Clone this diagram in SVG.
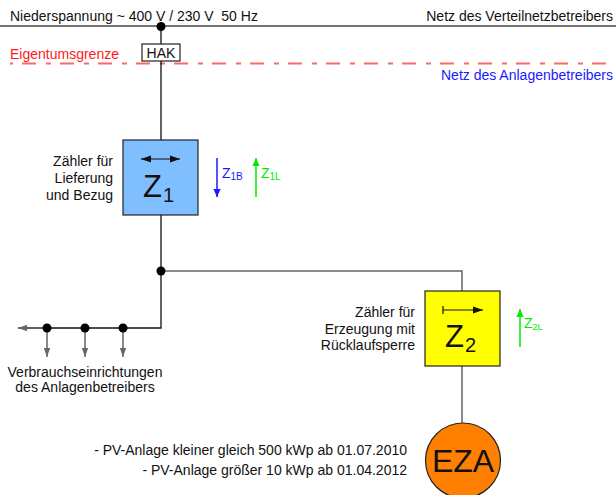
<svg xmlns="http://www.w3.org/2000/svg" width="616" height="495" viewBox="0 0 616 495">
<style>
text{font-family:"Liberation Sans",Arial,sans-serif;font-size:14px;fill:#111}
.r{text-anchor:end}
.c{text-anchor:middle}
.blk{stroke:#111;stroke-width:1.3;fill:none}
.gry{stroke:#666;stroke-width:1.5;fill:none}
.box{stroke:#222;stroke-width:1.2}
</style>
<defs>
<marker id="ak" viewBox="0 0 10 10" refX="10" refY="5" markerWidth="10" markerHeight="10" markerUnits="userSpaceOnUse" orient="auto-start-reverse"><path d="M0,1.5 L10,5 L0,8.5 z" fill="#111"/></marker>
<marker id="ag" viewBox="0 0 10 10" refX="10" refY="5" markerWidth="9" markerHeight="10" markerUnits="userSpaceOnUse" orient="auto"><path d="M0,1.5 L10,5 L0,8.5 z" fill="#666"/></marker>
<marker id="ab" viewBox="0 0 10 10" refX="10" refY="5" markerWidth="12" markerHeight="8" markerUnits="userSpaceOnUse" orient="auto"><path d="M0,0.5 L10,5 L0,9.5 z" fill="#1a1aff"/></marker>
<marker id="agr" viewBox="0 0 10 10" refX="10" refY="5" markerWidth="12" markerHeight="8" markerUnits="userSpaceOnUse" orient="auto"><path d="M0,0.5 L10,5 L0,9.5 z" fill="#00ee00"/></marker>
</defs>

<g id="header">
<text x="10" y="21" xml:space="preserve" style="white-space:pre">Niederspannung ~ 400 V / 230 V  50 Hz</text>
<text x="613" y="21" class="r">Netz des Verteilnetzbetreibers</text>
<text x="10" y="59" style="fill:#ff1a1a">Eigentumsgrenze</text>
<text x="613" y="80" class="r" style="fill:#1a1aff">Netz des Anlagenbetreibers</text>
</g>

<g id="connectors">
<line x1="0" y1="26" x2="616" y2="26" stroke="#444" stroke-width="1.3"/>
<line x1="10" y1="63.5" x2="616" y2="63.5" stroke="#ff6666" stroke-width="2" stroke-dasharray="3 9 14 10 2 0"/>
<line x1="161" y1="26" x2="161" y2="44" class="blk"/>
<line x1="161" y1="61" x2="161" y2="140" class="blk"/>
<polyline points="161,215 161,328 18,328" class="blk"/>
<line x1="47" y1="328" x2="18" y2="328" class="gry" marker-end="url(#ag)"/>
<polyline points="161,271 462,271 462,291" class="gry"/>
<line x1="462" y1="366" x2="462" y2="423" class="gry"/>
<line x1="47" y1="328" x2="47" y2="357" class="gry" marker-end="url(#ag)"/>
<line x1="85" y1="328" x2="85" y2="357" class="gry" marker-end="url(#ag)"/>
<line x1="123" y1="328" x2="123" y2="357" class="gry" marker-end="url(#ag)"/>
<circle cx="161" cy="26.5" r="4.5" fill="#000"/>
<circle cx="161" cy="271" r="4.5" fill="#000"/>
<circle cx="47" cy="328" r="4.5" fill="#000"/>
<circle cx="85" cy="328" r="4.5" fill="#000"/>
<circle cx="123" cy="328" r="4.5" fill="#000"/>
</g>

<g id="hak">
<rect x="142" y="44" width="38" height="17" fill="#fff" class="box"/>
<text x="161" y="58" class="c">HAK</text>
</g>

<g id="z1">
<rect x="123" y="140" width="75" height="75" fill="#80bfff" class="box"/>
<line x1="141" y1="159" x2="180" y2="159" stroke="#111" stroke-width="1.2" marker-start="url(#ak)" marker-end="url(#ak)"/>
<text x="143" y="197" style="font-size:31px">Z</text>
<text x="163" y="202" style="font-size:20px">1</text>
<text x="113" y="166" class="r">Zähler für</text>
<text x="113" y="183" class="r">Lieferung</text>
<text x="113" y="200" class="r">und Bezug</text>
</g>

<g id="z1b">
<line x1="217" y1="158" x2="217" y2="197" stroke="#1a1aff" stroke-width="1.5" marker-end="url(#ab)"/>
<text x="222" y="178" style="fill:#1a1aff">Z<tspan style="font-size:10px" dy="2">1B</tspan></text>
</g>
<g id="z1l">
<line x1="256" y1="197" x2="256" y2="158" stroke="#00ee00" stroke-width="1.5" marker-end="url(#agr)"/>
<text x="261" y="178" style="fill:#00ee00">Z<tspan style="font-size:10px" dy="2">1L</tspan></text>
</g>

<g id="verbraucher">
<text x="85" y="377" class="c">Verbrauchseinrichtungen</text>
<text x="85" y="392" class="c">des Anlagenbetreibers</text>
</g>

<g id="z2">
<rect x="425" y="291" width="75" height="75" fill="#ffff00" class="box"/>
<line x1="443" y1="306" x2="443" y2="314" stroke="#111" stroke-width="1.2"/>
<line x1="443" y1="310" x2="483" y2="310" stroke="#111" stroke-width="1.2" marker-end="url(#ak)"/>
<text x="445" y="347" style="font-size:31px">Z</text>
<text x="465" y="352" style="font-size:20px">2</text>
<text x="415" y="317" class="r">Zähler für</text>
<text x="415" y="333.5" class="r">Erzeugung mit</text>
<text x="415" y="350" class="r">Rücklaufsperre</text>
</g>

<g id="z2l">
<line x1="520" y1="347" x2="520" y2="309" stroke="#00ee00" stroke-width="1.5" marker-end="url(#agr)"/>
<text x="524" y="328" style="fill:#00ee00">Z<tspan style="font-size:9px" dy="2">2L</tspan></text>
</g>

<g id="eza">
<circle cx="463" cy="460.5" r="37.5" fill="#ff8000" stroke="#222" stroke-width="1.2"/>
<text x="463" y="472" class="c" style="font-size:32px">EZA</text>
<text x="407" y="455" class="r">- PV-Anlage kleiner gleich 500 kWp ab 01.07.2010</text>
<text x="407" y="475" class="r">- PV-Anlage größer 10 kWp ab 01.04.2012</text>
</g>
</svg>
